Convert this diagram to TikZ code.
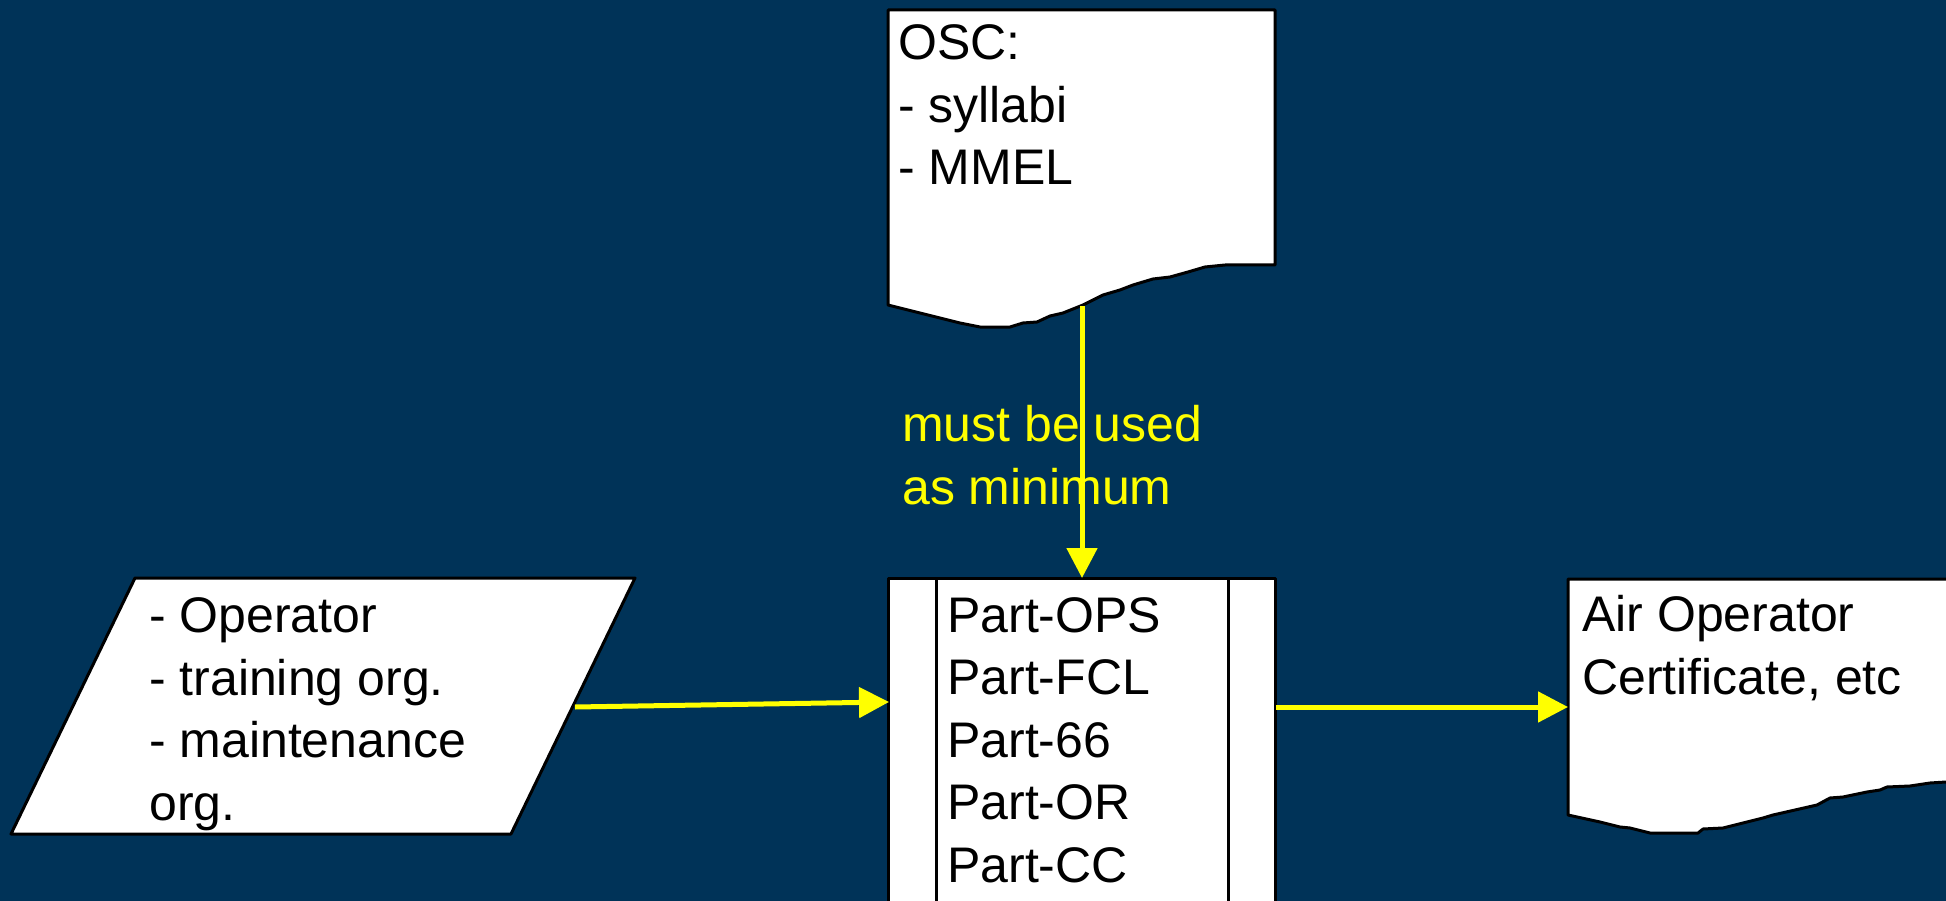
\documentclass[tikz,border=0pt]{standalone}
\usepackage{fontspec}
\setmainfont{Liberation Sans}
\usepackage{tikz}
\usetikzlibrary{arrows.meta}
\usepackage{xcolor}
\definecolor{navy}{RGB}{0,51,88}
\definecolor{signal}{RGB}{255,255,0}

\begin{document}
\begin{tikzpicture}[x=1pt,y=-1pt,
  doc/.style={draw=black,fill=white,line width=3pt,line join=round},
  txt/.style={anchor=base west,inner sep=0pt,align=left,font=\fontsize{50}{62.5}\selectfont},
  flow/.style={draw=signal,line width=5pt,-{Triangle[length=30pt,width=30pt]}}]
\fill [navy] (0,0) rectangle (1946,901);
\useasboundingbox (0,0) rectangle (1946,901);

% OSC sheet (text placed by its last baseline)
\draw [doc] (888,10) -- (1275,10) -- (1275,265) -- (1225,265) -- (1205,267) -- (1188,272) -- (1170,277)
  -- (1153,279) -- (1133,285) -- (1120,290) -- (1103,295) -- (1083,305) -- (1063,313) -- (1050,316)
  -- (1037,322) -- (1023,323) -- (1010,327) -- (980,327) -- (960,323) -- (940,318) -- (888,305) -- cycle;
\node [txt] (osc) at (898,185) {OSC:\\- syllabi\\- MMEL};

% rules
\draw [doc] (888,578) rectangle (1275,930);
\draw [line width=3pt] (936,578) -- (936,930);
\draw [line width=3pt] (1228,578) -- (1228,930);
\node [txt] (parts) at (947,882) {Part-OPS\\Part-FCL\\Part-66\\Part-OR\\Part-CC};

% who
\draw [doc] (135,578) -- (635,578) -- (511,834) -- (11,834) -- cycle;
\node [txt] (orgs) at (149,820) {- Operator\\- training org.\\- maintenance\\org.};

% certificate sheet
\draw [doc] (1568,579) -- (1960,579) -- (1960,782) -- (1946,782) -- (1930,783) -- (1910,786) -- (1887,787)
  -- (1880,790) -- (1867,792) -- (1843,797) -- (1830,798) -- (1817,805) -- (1773,815) -- (1763,818)
  -- (1723,828) -- (1703,829) -- (1698,833) -- (1650,833) -- (1630,828) -- (1620,827) -- (1600,822)
  -- (1568,815) -- cycle;
\node [txt] (aoc) at (1582,694) {Air Operator\\Certificate, etc};

\coordinate (oscfoot) at (1082,306);
\coordinate (partstop) at (1082,578);
\coordinate (partsleft) at (889,702);
\coordinate (partsright) at (1276,707);
\coordinate (orgsright) at (575,707);
\coordinate (aocleft) at (1568,707);

\node [txt,text=signal] (use) at (902,504) {must be used\\as minimum};

\draw [flow] (oscfoot) -- (partstop);
\draw [flow] (orgsright) -- (partsleft);
\draw [flow] (partsright) -- (aocleft);

\end{tikzpicture}
\end{document}
